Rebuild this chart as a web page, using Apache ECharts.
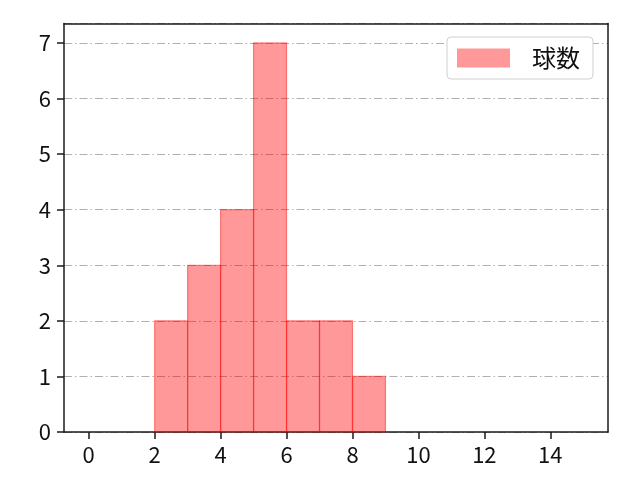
<!DOCTYPE html>
<html>
<head>
<meta charset="utf-8">
<script src="https://cdn.jsdelivr.net/npm/echarts@6/dist/echarts.min.js"></script>
<style>
html,body{margin:0;padding:0;background:#fff;}
#c{width:640px;height:480px;}
</style>
</head>
<body>
<div id="c"></div>
<script>
// Histogram data: bin edges and counts
var binStarts = [2, 3, 4, 5, 6, 7, 8];
var binEnds   = [3, 4, 5, 6, 7, 8, 9];
var counts    = [2, 3, 4, 7, 2, 2, 1];
var seriesName = '球数';
var xRange = [-0.75, 15.75];
var yRange = [0, 7.35];

var data = binStarts.map(function (s, i) { return [s, binEnds[i], counts[i]]; });

var font = 'Noto Sans CJK JP';
var chart = echarts.init(document.getElementById('c'), null, {renderer: 'canvas'});
var axisColor = '#1a1a1a';
function intLabel(v) { return (Math.abs(v - Math.round(v)) < 1e-9) ? String(Math.round(v)) : ''; }
var frameAxis = {
  axisLine: {show: true, onZero: false, lineStyle: {color: axisColor, width: 1.5}},
  axisTick: {show: false}, axisLabel: {show: false}, splitLine: {show: false}
};
chart.setOption({
  animation: false,
  backgroundColor: '#fff',
  grid: {left: 64, right: 32, top: 23.5, bottom: 48, containLabel: false},
  legend: {
    show: true,
    left: 447, top: 37,
    data: [seriesName],
    icon: 'rect',
    itemWidth: 53, itemHeight: 19,
    padding: [9, 13, 9, 10],
    backgroundColor: '#fff',
    borderColor: '#d0d0d0', borderWidth: 1, borderRadius: 4,
    textStyle: {fontFamily: font, fontSize: 24, color: '#111', padding: [0, 0, 0, 17]}
  },
  xAxis: [{
    type: 'value', min: xRange[0], max: xRange[1],
    minInterval: 2, maxInterval: 2, splitNumber: 8,
    axisLine: {show: true, onZero: false, lineStyle: {color: axisColor, width: 1.5}},
    axisTick: {show: true, length: 7, lineStyle: {color: axisColor, width: 1.5}},
    axisLabel: {show: true, margin: 12, fontFamily: font, fontSize: 22, color: '#111', showMinLabel: false, showMaxLabel: false, formatter: intLabel},
    splitLine: {show: false}
  }, Object.assign({type: 'value', position: 'top', min: xRange[0], max: xRange[1]}, frameAxis)],
  yAxis: [{
    type: 'value', min: yRange[0], max: yRange[1], interval: 1,
    axisLine: {show: true, onZero: false, lineStyle: {color: axisColor, width: 1.5}},
    axisTick: {show: true, length: 7, lineStyle: {color: axisColor, width: 1.5}},
    axisLabel: {show: true, margin: 13, fontFamily: font, fontSize: 22, color: '#111', showMaxLabel: false, formatter: intLabel},
    splitLine: {show: true, lineStyle: {color: '#b0b0b0', width: 1.1, type: [8, 3, 1.5, 3]}}
  }, Object.assign({type: 'value', position: 'right', min: yRange[0], max: yRange[1]}, frameAxis)],
  series: [{
    name: seriesName,
    type: 'custom',
    itemStyle: {color: 'rgba(255,0,0,0.4)'},
    encode: {x: [0, 1], y: 2},
    data: data,
    renderItem: function (params, api) {
      var p0 = api.coord([api.value(0), api.value(2)]);
      var p1 = api.coord([api.value(1), 0]);
      return {
        type: 'rect',
        shape: {x: p0[0], y: p0[1], width: p1[0] - p0[0], height: p1[1] - p0[1]},
        style: {fill: 'rgba(255,0,0,0.4)', stroke: 'rgba(255,0,0,0.45)', lineWidth: 1.2}
      };
    }
  }]
});
</script>
</body>
</html>
